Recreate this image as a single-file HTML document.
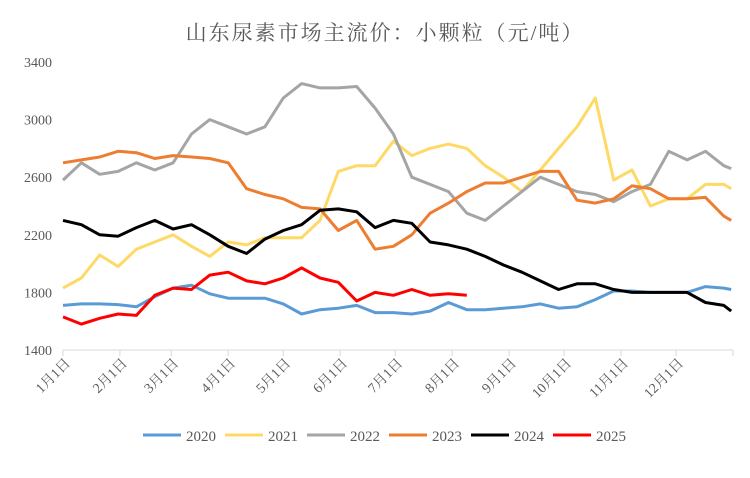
<!DOCTYPE html>
<html><head><meta charset="utf-8"><style>
body{margin:0;background:#fff;}
svg text{font-family:"Liberation Serif","Noto Serif CJK SC",serif;fill:#595959;}
</style></head><body>
<svg width="750" height="473">
<text x="385" y="40" text-anchor="middle" font-size="21" letter-spacing="2">山东尿素市场主流价：小颗粒（元/吨）</text>
<g id="yaxis"></g>
<g id="xaxis"></g>
<g id="series"></g>
<g id="legend"></g>
</svg>
<script>
const yTicks=[1400,1800,2200,2600,3000,3400];
const months=["1月1日","2月1日","3月1日","4月1日","5月1日","6月1日","7月1日","8月1日","9月1日","10月1日","11月1日","12月1日"];
const monthDays=[0,31,59,90,120,151,181,212,243,273,304,334,365];
const days=[0,10,20,30,40,50,60,70,80,90,100,110,120,130,140,150,160,170,180,190,200,210,220,230,240,250,260,270,280,290,300,310,320,330,340,350,360,364];
const s2020=[1710,1720,1720,1715,1700,1770,1830,1850,1790,1760,1760,1760,1720,1650,1680,1690,1710,1660,1660,1650,1670,1730,1680,1680,1690,1700,1720,1690,1700,1750,1810,1810,1800,1800,1800,1840,1830,1820];
const s2021=[1830,1900,2060,1980,2100,2150,2200,2120,2050,2150,2130,2180,2180,2180,2300,2640,2680,2680,2850,2750,2800,2830,2800,2680,2600,2500,2650,2800,2950,3150,2580,2650,2400,2450,2450,2550,2550,2520];
const s2022=[2580,2700,2620,2640,2700,2650,2700,2900,3000,2950,2900,2950,3150,3250,3220,3220,3230,3080,2900,2600,2550,2500,2350,2300,2400,2500,2600,2550,2500,2480,2430,2500,2550,2780,2720,2780,2680,2660];
const s2023=[2700,2720,2740,2780,2770,2730,2750,2740,2730,2700,2520,2480,2450,2390,2380,2230,2300,2100,2120,2200,2350,2420,2500,2560,2560,2600,2640,2640,2440,2420,2450,2540,2520,2450,2450,2460,2330,2300];
const s2024=[2300,2270,2200,2190,2250,2300,2240,2270,2200,2120,2070,2170,2230,2270,2370,2380,2360,2250,2300,2280,2150,2130,2100,2050,1990,1940,1880,1820,1860,1860,1820,1800,1800,1800,1800,1730,1710,1670];
const s2025=[1630,1580,1620,1650,1640,1780,1830,1820,1920,1940,1880,1860,1900,1970,1900,1870,1740,1800,1780,1820,1780,1790,1780];
const seriesNames=["2020","2021","2022","2023","2024","2025"];
const colors=["#5B9BD5","#FFD966","#A5A5A5","#ED7D31","#000000","#FF0000"];
const allSeries=[s2020,s2021,s2022,s2023,s2024,s2025];
const NS="http://www.w3.org/2000/svg";
const X0=63,X1=733,Y0=350,Y1=62;
const xs=d=>X0+d*(X1-X0)/365;
const ys=v=>Y0-(v-1400)*(Y0-Y1)/2000;
function mk(t,a,p){const e=document.createElementNS(NS,t);for(const k in a)e.setAttribute(k,a[k]);p.appendChild(e);return e;}
const ya=document.getElementById('yaxis');
yTicks.forEach(v=>{const t=mk('text',{x:52,y:ys(v)+5,'text-anchor':'end','font-size':14},ya);t.textContent=v;

});
const xa=document.getElementById('xaxis');
const ax=mk('line',{x1:X0,y1:Y0,x2:X1,y2:Y0,stroke:'#d9d9d9','stroke-width':1},xa);


monthDays.forEach(d=>{const l=mk('line',{x1:xs(d),y1:Y0,x2:xs(d),y2:Y0+6,stroke:'#d9d9d9'},xa);

});
months.forEach((m,i)=>{const x=xs(monthDays[i])+8,y=Y0+14;
const t=mk('text',{x:x,y:y,'text-anchor':'end','font-size':14,transform:`rotate(-45 ${x} ${y})`},xa);t.textContent=m;

});
const sg=document.getElementById('series');
allSeries.forEach((s,i)=>{const pts=s.map((v,j)=>xs(days[j]).toFixed(1)+','+ys(v).toFixed(1)).join(' ');
const p=mk('polyline',{points:pts,fill:'none',stroke:colors[i],'stroke-width':3,'stroke-linejoin':'round'},sg);

});
const lg=document.getElementById('legend');
let lx=143;
seriesNames.forEach((n,i)=>{const l=mk('line',{x1:lx,y1:435,x2:lx+38,y2:435,stroke:colors[i],'stroke-width':3},lg);


const t=mk('text',{x:lx+43,y:441,'font-size':15},lg);t.textContent=n;


lx+=82;});
</script>
</body></html>
